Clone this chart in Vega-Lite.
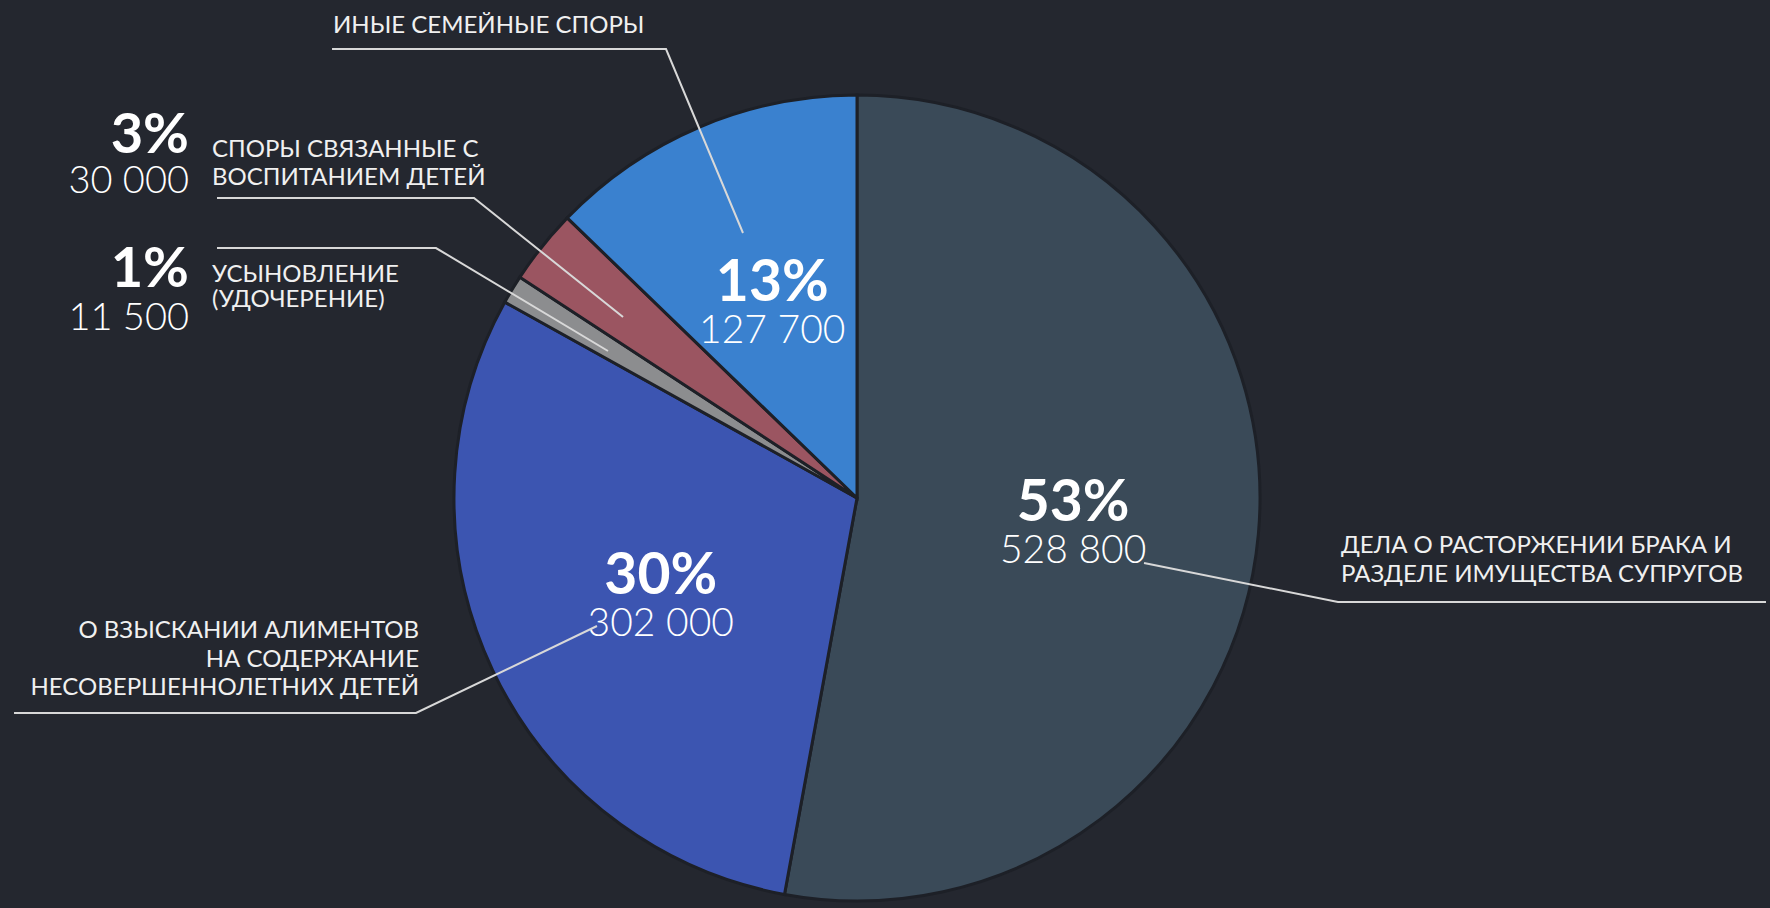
{
  "$schema": "https://vega.github.io/schema/vega-lite/v6.json",
  "width": 1714,
  "height": 820,
  "autosize": {"type": "none"},
  "padding": {"left": 0, "top": 88, "right": 56, "bottom": 0},
  "background": "#24272f",
  "config": {
    "view": {"stroke": null},
    "locale": {"number": {"decimal": ",", "thousands": " ", "grouping": [3], "currency": ["", " ₽"]}}
  },
  "datasets": {
    "slices": [
      {"category": "Дела о расторжении брака и разделе имущества супругов", "value": 528800, "share": 0.53, "order": 1},
      {"category": "О взыскании алиментов на содержание несовершеннолетних детей", "value": 302000, "share": 0.30, "order": 2},
      {"category": "Усыновление (удочерение)", "value": 11500, "share": 0.01, "order": 3},
      {"category": "Споры, связанные с воспитанием детей", "value": 30000, "share": 0.03, "order": 4},
      {"category": "Иные семейные споры", "value": 127700, "share": 0.13, "order": 5}
    ],
    "labels": [
      {"text": "ИНЫЕ СЕМЕЙНЫЕ СПОРЫ", "kind": "caption", "anchor": "start", "x": -1.3002, "y": -1.1538},
      {"text": "СПОРЫ СВЯЗАННЫЕ С", "kind": "caption", "anchor": "start", "x": -1.6005, "y": -0.8462},
      {"text": "ВОСПИТАНИЕМ ДЕТЕЙ", "kind": "caption", "anchor": "start", "x": -1.6005, "y": -0.7767},
      {"text": "УСЫНОВЛЕНИЕ", "kind": "caption", "anchor": "start", "x": -1.6005, "y": -0.5360},
      {"text": "(УДОЧЕРЕНИЕ)", "kind": "caption", "anchor": "start", "x": -1.6005, "y": -0.4739},
      {"text": "О ВЗЫСКАНИИ АЛИМЕНТОВ", "kind": "caption", "anchor": "end", "x": -1.0868, "y": 0.3474},
      {"text": "НА СОДЕРЖАНИЕ", "kind": "caption", "anchor": "end", "x": -1.0868, "y": 0.4194},
      {"text": "НЕСОВЕРШЕННОЛЕТНИХ ДЕТЕЙ", "kind": "caption", "anchor": "end", "x": -1.0868, "y": 0.4888},
      {"text": "ДЕЛА О РАСТОРЖЕНИИ БРАКА И", "kind": "caption", "anchor": "start", "x": 1.2010, "y": 0.1365},
      {"text": "РАЗДЕЛЕ ИМУЩЕСТВА СУПРУГОВ", "kind": "caption", "anchor": "start", "x": 1.2010, "y": 0.2084},
      {"text": "3%", "kind": "share", "anchor": "end", "x": -1.6576, "y": -0.8561},
      {"text": "30 000", "kind": "count", "anchor": "end", "x": -1.6576, "y": -0.7568},
      {"text": "1%", "kind": "share", "anchor": "end", "x": -1.6576, "y": -0.5236},
      {"text": "11 500", "kind": "count", "anchor": "end", "x": -1.6576, "y": -0.4169}
    ],
    "leaders": [
      {"leader": "Иные", "step": 1, "x": -1.3027, "y": -1.1141},
      {"leader": "Иные", "step": 2, "x": -0.4739, "y": -1.1141},
      {"leader": "Иные", "step": 3, "x": -0.2829, "y": -0.6576},
      {"leader": "Воспитание", "step": 1, "x": -1.5881, "y": -0.7444},
      {"leader": "Воспитание", "step": 2, "x": -0.9504, "y": -0.7444},
      {"leader": "Воспитание", "step": 3, "x": -0.5806, "y": -0.4491},
      {"leader": "Усыновление", "step": 1, "x": -1.5881, "y": -0.6203},
      {"leader": "Усыновление", "step": 2, "x": -1.0447, "y": -0.6203},
      {"leader": "Усыновление", "step": 3, "x": -0.6179, "y": -0.3648},
      {"leader": "Алименты", "step": 1, "x": -2.0918, "y": 0.5335},
      {"leader": "Алименты", "step": 2, "x": -1.0943, "y": 0.5335},
      {"leader": "Алименты", "step": 3, "x": -0.6452, "y": 0.3176},
      {"leader": "Брак", "step": 1, "x": 0.7122, "y": 0.1613},
      {"leader": "Брак", "step": 2, "x": 1.1935, "y": 0.2581},
      {"leader": "Брак", "step": 3, "x": 2.2556, "y": 0.2581}
    ]
  },
  "layer": [
    {
      "data": {"name": "slices"},
      "encoding": {
        "theta": {"field": "value", "type": "quantitative", "stack": true},
        "order": {"field": "order", "type": "quantitative"}
      },
      "layer": [
        {
          "mark": {"type": "arc", "outerRadius": 403, "stroke": "#1d2027", "strokeWidth": 3},
          "encoding": {
            "color": {
              "field": "category",
              "type": "nominal",
              "scale": {
                "domain": [
                  "Дела о расторжении брака и разделе имущества супругов",
                  "О взыскании алиментов на содержание несовершеннолетних детей",
                  "Усыновление (удочерение)",
                  "Споры, связанные с воспитанием детей",
                  "Иные семейные споры"
                ],
                "range": ["#3a4a58", "#3c55b1", "#8c8d8f", "#9b5561", "#3a81cf"]
              },
              "legend": null
            }
          }
        },
        {
          "mark": {"type": "text", "radius": 217, "dy": -14, "font": "Lato", "fontWeight": "bold", "fontSize": 57, "fill": "#ffffff", "align": "center", "baseline": "middle"},
          "encoding": {
            "text": {"condition": {"test": "datum.share >= 0.1", "field": "share", "type": "quantitative", "format": ".0%"}, "value": ""}
          }
        },
        {
          "mark": {"type": "text", "radius": 217, "dy": 33, "font": "Lato", "fontWeight": 300, "fontSize": 39, "fill": "#ffffff", "align": "center", "baseline": "middle"},
          "encoding": {
            "text": {"condition": {"test": "datum.share >= 0.1", "field": "value", "type": "quantitative", "format": ",d"}, "value": ""}
          }
        }
      ]
    },
    {
      "data": {"name": "leaders"},
      "mark": {"type": "line", "stroke": "#d8d8d8", "strokeWidth": 2},
      "encoding": {
        "x": {"field": "x", "type": "quantitative", "scale": {"domain": [-2.1266, 2.1266], "nice": false, "zero": false}, "axis": null},
        "y": {"field": "y", "type": "quantitative", "scale": {"domain": [-1.0174, 1.0174], "reverse": true, "nice": false, "zero": false}, "axis": null},
        "detail": {"field": "leader", "type": "nominal"},
        "order": {"field": "step", "type": "quantitative"}
      }
    },
    {
      "data": {"name": "labels"},
      "transform": [{"filter": "datum.kind == 'caption' && datum.anchor == 'start'"}],
      "mark": {"type": "text", "align": "left", "baseline": "alphabetic", "font": "Lato", "fontSize": 24, "fill": "#f0f0f0"},
      "encoding": {
        "x": {"field": "x", "type": "quantitative", "scale": {"domain": [-2.1266, 2.1266], "nice": false, "zero": false}, "axis": null},
        "y": {"field": "y", "type": "quantitative", "scale": {"domain": [-1.0174, 1.0174], "reverse": true, "nice": false, "zero": false}, "axis": null},
        "text": {"field": "text", "type": "nominal"}
      }
    },
    {
      "data": {"name": "labels"},
      "transform": [{"filter": "datum.kind == 'caption' && datum.anchor == 'end'"}],
      "mark": {"type": "text", "align": "right", "baseline": "alphabetic", "font": "Lato", "fontSize": 24, "fill": "#f0f0f0"},
      "encoding": {
        "x": {"field": "x", "type": "quantitative", "axis": null},
        "y": {"field": "y", "type": "quantitative", "axis": null},
        "text": {"field": "text", "type": "nominal"}
      }
    },
    {
      "data": {"name": "labels"},
      "transform": [{"filter": "datum.kind == 'share'"}],
      "mark": {"type": "text", "align": "right", "baseline": "alphabetic", "font": "Lato", "fontWeight": "bold", "fontSize": 56, "fill": "#ffffff"},
      "encoding": {
        "x": {"field": "x", "type": "quantitative", "axis": null},
        "y": {"field": "y", "type": "quantitative", "axis": null},
        "text": {"field": "text", "type": "nominal"}
      }
    },
    {
      "data": {"name": "labels"},
      "transform": [{"filter": "datum.kind == 'count'"}],
      "mark": {"type": "text", "align": "right", "baseline": "alphabetic", "font": "Lato", "fontWeight": 300, "fontSize": 38, "fill": "#ffffff"},
      "encoding": {
        "x": {"field": "x", "type": "quantitative", "axis": null},
        "y": {"field": "y", "type": "quantitative", "axis": null},
        "text": {"field": "text", "type": "nominal"}
      }
    }
  ]
}
